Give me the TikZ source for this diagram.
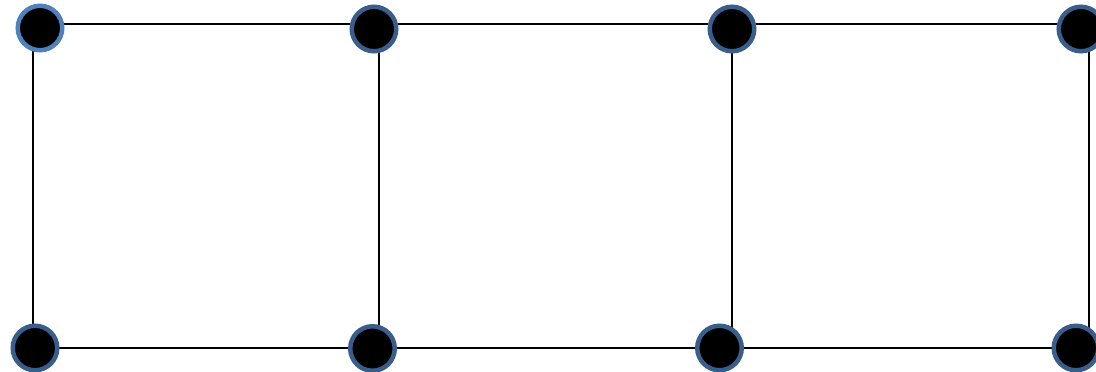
\documentclass[tikz,border=0pt]{standalone}
\definecolor{ringlight}{RGB}{79,129,189}
\definecolor{ringdark}{RGB}{58,94,140}
\begin{document}
\begin{tikzpicture}[x=1pt,y=-1pt,
  vertex/.style={circle,fill=black,draw=ringdark,line width=4.5pt,inner sep=0pt,minimum size=44.5pt},
  edge/.style={line width=2pt,black}]
\useasboundingbox (0,0) rectangle (1096,372);
% line corners
\coordinate (t1) at (32.5,24);
\coordinate (t2) at (378.5,24);
\coordinate (t3) at (732,24);
\coordinate (t4) at (1089,24);
\coordinate (b1) at (32.5,348);
\coordinate (b2) at (378.5,348);
\coordinate (b3) at (732,348);
\coordinate (b4) at (1089,348);
\draw[edge] (t1) -- (t2) -- (t3) -- (t4);
\draw[edge] (b1) -- (b2) -- (b3) -- (b4);
\draw[edge] (t1) -- (b1);
\draw[edge] (t2) -- (b2);
\draw[edge] (t3) -- (b3);
\draw[edge] (t4) -- (b4);
% vertices
\node[vertex,draw=ringlight] (n1) at (40,28) {};
\node[vertex] (n2) at (374,29) {};
\node[vertex] (n3) at (732,29) {};
\node[vertex] (n4) at (1081,29) {};
\node[vertex] (n5) at (35,348) {};
\node[vertex] (n6) at (372.5,348.5) {};
\node[vertex] (n7) at (719.5,348) {};
\node[vertex] (n8) at (1076,348) {};
\end{tikzpicture}
\end{document}
